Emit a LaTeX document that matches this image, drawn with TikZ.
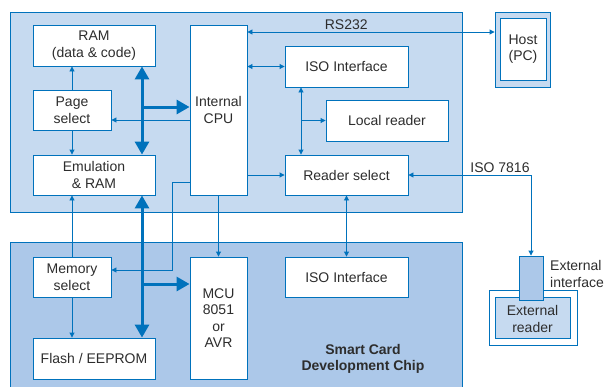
\documentclass[tikz,border=0pt]{standalone}
\usepackage{fontspec}
\setmainfont{Liberation Sans}
\usetikzlibrary{arrows.meta, positioning}
\definecolor{lineblue}{RGB}{0,114,188}
\definecolor{paneltop}{RGB}{198,218,240}
\definecolor{panelbot}{RGB}{172,200,233}
\definecolor{txt}{RGB}{45,45,45}

\begin{document}
\begin{tikzpicture}[x=1pt, y=-1pt, >={Triangle[length=5pt,width=5pt]},
  box/.style={draw=lineblue, line width=0.9pt, fill=white, text=txt, align=center,
    inner sep=0pt, font=\fontsize{14}{16.5}\selectfont},
  sar/.style={->, draw=lineblue, line width=0.9pt},
  dar/.style={<->, draw=lineblue, line width=0.9pt},
  bus/.style={draw=lineblue, line width=3pt,
    {Triangle[length=13pt,width=14pt]}-{Triangle[length=13pt,width=14pt]}},
  busr/.style={draw=lineblue, line width=3pt, -{Triangle[length=13pt,width=14pt]}},
  lbl/.style={text=txt, font=\fontsize{14}{16.5}\selectfont, inner sep=1pt}]

\useasboundingbox (0,0) rectangle (605,386);

% Panels of the two parts
\draw[lineblue, line width=0.9pt, fill=paneltop] (10,12) rectangle (462,212);
\draw[lineblue, line width=0.9pt, fill=panelbot] (10,392) -- (10,242) -- (462,242) -- (462,392);

% Helper rows and columns
\coordinate (rsy) at (0,32);
\coordinate (py) at (0,120);
\coordinate (by1) at (0,107);
\coordinate (by2) at (0,284);
\coordinate (my1) at (0,182);
\coordinate (my2) at (0,270);
\coordinate (bus) at (142,0);
\coordinate (ix) at (301,0);
\coordinate (mx) at (172,0);

% Upper part
\node[box, minimum width=122pt, minimum height=41pt] (ram) at (94,45.5) {RAM\\(data \& code)};
\node[box, minimum width=78pt, minimum height=40pt] (page) at (72,110) {Page\\select};
\node[box, minimum width=122pt, minimum height=40pt] (emu) at (94,175) {Emulation\\\& RAM};
\node[box, minimum width=57pt, minimum height=170pt] (cpu) at (218.5,110) {Internal\\CPU};
\node[box, minimum width=123pt, minimum height=41pt] (isotop) at (346.5,66.5) {ISO Interface};
\node[box, minimum width=122pt, minimum height=41pt] (local) at (387,120.5) {Local reader};
\node[box, minimum width=123pt, minimum height=40pt] (rsel) at (346.5,175) {Reader select};

% Host
\node[box, fill=paneltop, minimum width=55pt, minimum height=75pt] (hostout) at (522.5,49.5) {};
\node[box, minimum width=46pt, minimum height=62pt] (host) at (523,49) {Host\\(PC)};

% Lower part
\node[box, minimum width=78pt, minimum height=40pt] (memsel) at (72,277) {Memory\\select};
\node[box, minimum width=122pt, minimum height=41pt] (flash) at (94,358.5) {Flash / EEPROM};
\node[box, minimum width=57pt, minimum height=122pt] (mcu) at (218.5,318) {MCU\\8051\\or\\AVR};
\node[box, minimum width=123pt, minimum height=40pt] (isobot) at (346.5,277) {ISO Interface};
\node[lbl, font=\bfseries\fontsize{14}{16.5}\selectfont, align=center] (chip) at (363,359) {Smart Card\\Development Chip};

% External reader
\node[box, minimum width=88pt, minimum height=55pt] (extout) at (533,317.5) {};
\node[box, fill=paneltop, minimum width=75pt, minimum height=41pt] (extrd) at (532.5,317.5) {\\[-3pt]External\\reader};
\node[box, fill=panelbot, minimum width=24pt, minimum height=44pt] (extif) at (531,278) {};
\node[lbl, anchor=west, align=left] (extlbl) at (549,274) {External\\interface};

% Thin connectors
\draw[dar] (cpu.east |- rsy) -- node[lbl, pos=0.4, above=1pt] (rslbl) {RS232} (hostout.west |- rsy);
\draw[dar] (cpu.east |- isotop) -- (isotop.west);
\draw[sar] (cpu.west |- py) -- (page.east |- py);
\draw[sar] (page.north) -- (page.north |- ram.south);
\draw[sar] (page.south) -- (page.south |- emu.north);
\draw[sar] (cpu.east |- rsel) -- (rsel.west);
\draw[dar] (ix |- isotop.south) -- (ix |- rsel.north);
\draw[sar] (ix |- local) -- (local.west);
\draw[dar] (rsel.east) -- (extif.north |- rsel) node[lbl, above left=1pt and 0pt] (isolbl) {ISO 7816} -- (extif.north);
\draw[dar] (rsel.south) -- (isobot.north);
\draw[sar] (cpu.south) -- (mcu.north);
\draw[sar] (memsel.north) -- (memsel.north |- emu.south);
\draw[sar] (memsel.south) -- (memsel.south |- flash.north);
\draw[sar] (cpu.west |- my1) -| (mx |- my2) -- (memsel.east |- my2);

% Memory bus
\draw[bus] (bus |- ram.south) -- (bus |- emu.north);
\draw[busr] (bus |- by1) -- (cpu.west |- by1);
\draw[bus] (bus |- emu.south) -- (bus |- flash.north);
\draw[busr] (bus |- by2) -- (mcu.west |- by2);

\end{tikzpicture}
\end{document}
